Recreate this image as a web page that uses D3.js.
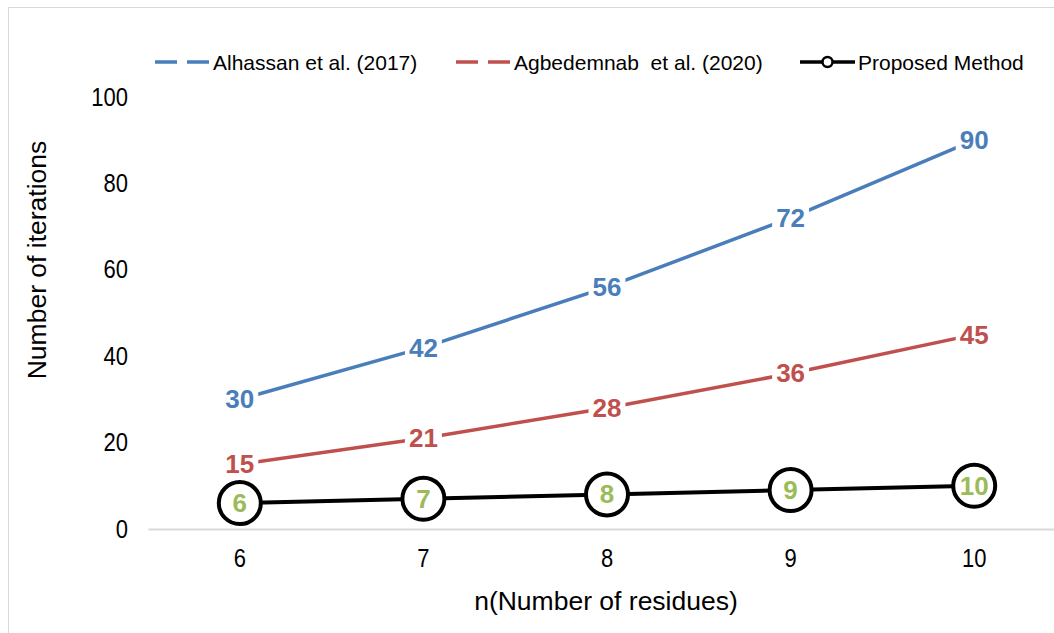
<!DOCTYPE html>
<html><head><meta charset="utf-8">
<script src="https://cdn.jsdelivr.net/npm/d3@7"></script>
<style>body{margin:0;background:#fff}svg{display:block;font-family:"Liberation Sans",Arial,sans-serif}text{white-space:pre}</style>
</head><body>
<svg id="c" width="1054" height="633"></svg>
<script>
const categories = [6, 7, 8, 9, 10];
const alhassan = [30, 42, 56, 72, 90];
const agbedemnab = [15, 21, 28, 36, 45];
const proposed = [6, 7, 8, 9, 10];
const yTicks = [0, 20, 40, 60, 80, 100];
const seriesNames = ["Alhassan et al. (2017)", "Agbedemnab  et al. (2020)", "Proposed Method"];

const svg = d3.select("#c");
// chart border
svg.append("rect").attr("x", 8.5).attr("y", 7.5).attr("width", 1060).attr("height", 640)
  .attr("fill", "none").attr("stroke", "#d9d9d9").attr("stroke-width", 1);

const x = d3.scaleBand().domain(categories).range([148, 1066]);
const y = d3.scaleLinear().domain([0, 100]).range([529, 97]);
const cx = d => x(d) + x.bandwidth() / 2;

function stretch(sel) {
  sel.each(function() {
    const t = d3.select(this);
    const tx = +t.attr("x") || 0, ty = +t.attr("y") || 0;
    t.attr("x", 0).attr("y", 0).attr("transform", `translate(${tx},${ty}) scale(1,1.15)`);
  });
}

// x axis
const xa = svg.append("g").attr("transform", "translate(0,529)")
  .call(d3.axisBottom(x).tickSize(0).tickPadding(20));
xa.select(".domain").attr("stroke", "#d9d9d9").attr("stroke-width", 2);
xa.selectAll("text").attr("font-size", 22).attr("fill", "#000").attr("font-family", "Liberation Sans, Arial").call(stretch);

// y axis
const ya = svg.append("g").attr("transform", "translate(148,0)")
  .call(d3.axisLeft(y).tickValues(yTicks).tickSize(0).tickPadding(20));
ya.select(".domain").remove();
ya.selectAll("text").attr("font-size", 22).attr("fill", "#000").attr("font-family", "Liberation Sans, Arial").call(stretch);

// titles
svg.append("text").attr("x", 606).attr("y", 610).attr("text-anchor", "middle")
  .attr("font-size", 26.5).text("n(Number of residues)");
svg.append("text").attr("transform", "translate(46,260) rotate(-90)").attr("text-anchor", "middle")
  .attr("font-size", 26.5).text("Number of iterations");

const line = d3.line().x((d, i) => cx(categories[i])).y(d => y(d));

function drawSeries(vals, color) {
  svg.append("path").datum(vals).attr("d", line).attr("fill", "none")
    .attr("stroke", color).attr("stroke-width", 3.5);
}
drawSeries(alhassan, "#4a7ebb");
drawSeries(agbedemnab, "#c0504d");
svg.append("path").datum(proposed).attr("d", line).attr("fill", "none")
  .attr("stroke", "#000").attr("stroke-width", 4);

function labels(vals, color) {
  const g = svg.append("g");
  vals.forEach((v, i) => {
    const t = g.append("text").attr("x", cx(categories[i])).attr("y", y(v))
      .attr("text-anchor", "middle").attr("dominant-baseline", "central")
      .attr("font-size", 26).attr("font-weight", "bold").attr("fill", color).text(v);
    const b = t.node().getBBox();
    g.insert("rect", "text").attr("x", b.x - 4).attr("y", b.y + 2).attr("width", b.width + 8)
      .attr("height", b.height - 4).attr("fill", "#fff");
  });
}
labels(alhassan, "#4a7ebb");
labels(agbedemnab, "#c0504d");

// proposed markers
svg.append("g").selectAll("circle").data(proposed).join("circle")
  .attr("cx", (d, i) => cx(categories[i])).attr("cy", d => y(d)).attr("r", 21)
  .attr("fill", "#fff").attr("stroke", "#000").attr("stroke-width", 4);
svg.append("g").selectAll("text").data(proposed).join("text")
  .attr("x", (d, i) => cx(categories[i])).attr("y", d => y(d))
  .attr("text-anchor", "middle").attr("dominant-baseline", "central")
  .attr("font-size", 26).attr("font-weight", "bold").attr("fill", "#9bbb59").text(d => d);

// legend
const lg = svg.append("g");
const legendItems = [
  {x: 155, color: "#4a7ebb", dash: true},
  {x: 456, color: "#c0504d", dash: true},
  {x: 800, color: "#000", dash: false}
];
legendItems.forEach((it, i) => {
  const ly = 62;
  if (it.dash) {
    lg.append("line").attr("x1", it.x).attr("x2", it.x + 55).attr("y1", ly).attr("y2", ly)
      .attr("stroke", it.color).attr("stroke-width", 3.5).attr("stroke-dasharray", "22,10");
  } else {
    lg.append("line").attr("x1", it.x).attr("x2", it.x + 55).attr("y1", ly).attr("y2", ly)
      .attr("stroke", it.color).attr("stroke-width", 3.5);
    lg.append("circle").attr("cx", it.x + 27.5).attr("cy", ly).attr("r", 5)
      .attr("fill", "#fff").attr("stroke", "#000").attr("stroke-width", 2.5);
  }
  lg.append("text").attr("x", it.x + 58).attr("y", ly).attr("dominant-baseline", "central")
    .attr("font-size", 21).attr("fill", "#000").text(seriesNames[i]);
});
</script>
</body></html>
